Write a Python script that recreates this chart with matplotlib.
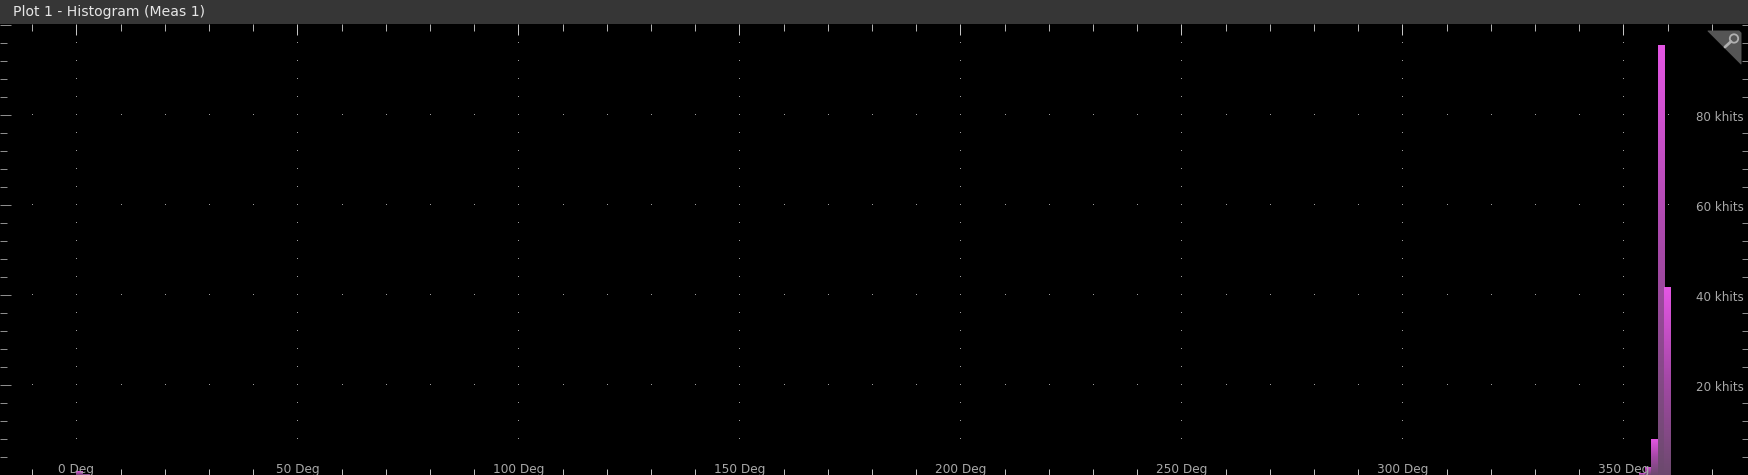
import numpy as np
import matplotlib
matplotlib.use("Agg")
import matplotlib.pyplot as plt
from matplotlib.colors import LinearSegmentedColormap
from matplotlib.patches import Polygon, Circle, Rectangle

W, H, DPI = 1748, 475, 100
BAR_HEADER = 24
PX_PER_DEG = 4.42
PX_PER_KHIT = 4.5
ZERO_PX = 76.5

title = "Plot 1 - Histogram (Meas 1)"
bin_angles = [0.7, 2.1, 354.2, 355.6, 357.0, 358.5, 359.95]
bin_khits = [0.8, 0.25, 0.4, 1.8, 8.0, 95.5, 41.7]
bin_width = 1.45
x_major = [0, 50, 100, 150, 200, 250, 300, 350]
x_minor = [-10, 10, 20, 30, 40, 60, 70, 80, 90, 110, 120, 130, 140, 160, 170, 180, 190,
           210, 220, 230, 240, 260, 270, 280, 290, 310, 320, 330, 340, 360, 370]
y_major = [20, 40, 60, 80, 100]
y_minor = [4, 8, 12, 16, 24, 28, 32, 36, 44, 48, 52, 56, 64, 68, 72, 76, 84, 88, 92, 96]
y_labelled = [20, 40, 60, 80]

fig = plt.figure(figsize=(W / DPI, H / DPI), dpi=DPI, facecolor="black")
ax = fig.add_axes([0, 0, 1, (H - BAR_HEADER) / H], facecolor="black")
xlim = (-ZERO_PX / PX_PER_DEG, (W - ZERO_PX) / PX_PER_DEG)
ylim = (0, (H - BAR_HEADER) / PX_PER_KHIT)

cmap = LinearSegmentedColormap.from_list("bar", ["#6c4a6e", "#a348a5", "#e456e4"])
grad = np.linspace(1, 0, 256).reshape(-1, 1)
bars = ax.bar(bin_angles, bin_khits, width=bin_width, color="none", linewidth=0, zorder=2)
for b in bars:
    im = ax.imshow(grad, cmap=cmap, vmin=0, vmax=1, aspect="auto", zorder=2,
                   extent=(b.get_x(), b.get_x() + b.get_width(), 0, b.get_height()))
    im.set_clip_path(b)

# dotted grid
gx_all = [v for v in sorted(x_major + x_minor) if v < 370]
for yv in y_major[:-1]:
    ax.plot(gx_all, [yv] * len(gx_all), linestyle="none", marker=",", color="#a0a0a0", zorder=1)
for xv in x_major:
    ys = [v for v in y_minor if v > 4]
    ax.plot([xv] * len(ys), ys, linestyle="none", marker=",", color="#a0a0a0", zorder=1)

ax.set_xlim(*xlim)
ax.set_ylim(*ylim)
for s in ax.spines.values():
    s.set_visible(False)

pt = 72 / DPI
# top and left ticks
ax.xaxis.tick_top()
ax.set_xticks(x_major)
ax.set_xticks(x_minor, minor=True)
ax.set_yticks(y_major)
ax.set_yticks(y_minor, minor=True)
ax.tick_params(axis="x", which="major", direction="in", length=11 * pt, width=pt, color="#c4c4c4",
               labeltop=False, top=True, bottom=False)
ax.tick_params(axis="x", which="minor", direction="in", length=7 * pt, width=pt, color="#b0b0b0",
               top=True, bottom=False)
ax.tick_params(axis="y", which="major", direction="in", length=11 * pt, width=pt, color="#8c8c8c",
               labelleft=False, left=True)
ax.tick_params(axis="y", which="minor", direction="in", length=7 * pt, width=pt, color="#8c8c8c", left=True)

# bottom and right ticks
sx = ax.secondary_xaxis("bottom")
sx.set_xticks(x_minor)
sx.tick_params(direction="in", length=6 * pt, width=pt, color="#c0c0c0", labelbottom=False, zorder=5)
sy = ax.secondary_yaxis("right")
sy.set_yticks(y_minor + [100])
sy.tick_params(direction="in", length=6 * pt, width=pt, color="#8c8c8c", labelright=False)
for sec in (sx, sy):
    for s in sec.spines.values():
        s.set_visible(False)

# tick labels
for xv in x_major:
    ax.annotate(f"{xv} Deg", (xv, 0), xytext=(0, -0.8), textcoords="offset points", ha="center", va="bottom",
                fontsize=8.7, color="#a8a8a8", zorder=6, annotation_clip=False)
for yv in y_labelled:
    ax.annotate(f"{yv} khits", (1, yv), xycoords=("axes fraction", "data"), xytext=(-3, -2.0),
                textcoords="offset points", ha="right", va="center", fontsize=8.6,
                color="#a8a8a8", zorder=6)

# overlay in pixels: title bar and magnifier badge
ov = fig.add_axes([0, 0, 1, 1], facecolor="none")
ov.set_xlim(0, W)
ov.set_ylim(H, 0)
ov.axis("off")
ov.add_patch(Rectangle((0, 0), W, BAR_HEADER, facecolor="#363636", edgecolor="none"))
ov.text(13, 12, title, color="#e6e6e6", fontsize=10.05, ha="left", va="center")
ov.add_patch(Polygon([(1708, 31), (1739, 31), (1741, 33), (1741, 64)], closed=True,
                     facecolor="#555555", edgecolor="#555555", linewidth=0.7, joinstyle="round"))
ov.add_patch(Circle((1734, 38.5), 4.2, facecolor="none", edgecolor="#b0b0b0", linewidth=1.3))
ov.plot([1731, 1725], [41.5, 47], color="#b0b0b0", linewidth=2.0, solid_capstyle="round")

fig.savefig("out.png", dpi=DPI, facecolor="black")
